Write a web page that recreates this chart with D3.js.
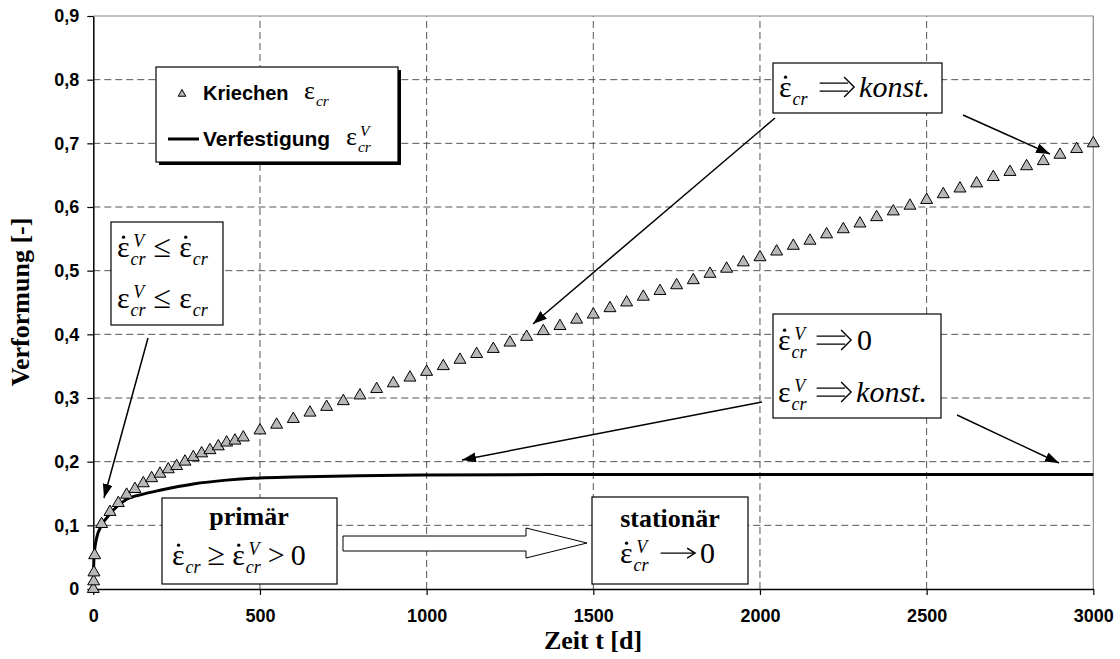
<!DOCTYPE html>
<html>
<head>
<meta charset="UTF-8">
<title>Kriechen / Verfestigung</title>
<style>
body { margin: 0; background: #fff; }
.tick text { font-family: "Liberation Sans", Arial, sans-serif; font-weight: bold; font-size: 18px; fill: #000; }
.grid line { stroke: #555; stroke-width: 1; stroke-dasharray: 7,4; }
.serif { font-family: "Liberation Serif", "Times New Roman", serif; fill: #000; }
</style>
</head>
<body>
<svg id="chart" width="1120" height="659"></svg>
<script src="https://d3js.org/d3.v7.min.js"></script>
<script>
// Kriechen (triangles)
var kriechenT = [0, 1, 2, 4, 25, 50, 75, 100, 125, 150, 175, 200, 225, 250, 275, 300, 325, 350, 375, 400, 425, 450,
  500, 550, 600, 650, 700, 750, 800, 850, 900, 950, 1000, 1050, 1100, 1150, 1200, 1250, 1300, 1350, 1400, 1450,
  1500, 1550, 1600, 1650, 1700, 1750, 1800, 1850, 1900, 1950, 2000, 2050, 2100, 2150, 2200, 2250, 2300, 2350,
  2400, 2450, 2500, 2550, 2600, 2650, 2700, 2750, 2800, 2850, 2900, 2950, 3000];
var kriechenV = [0, 0.012, 0.026, 0.053, 0.102, 0.121, 0.135, 0.148, 0.157, 0.166, 0.174, 0.181, 0.188, 0.193, 0.200, 0.207, 0.213, 0.218, 0.224, 0.230, 0.233, 0.238,
  0.249, 0.258, 0.267, 0.277, 0.286, 0.295, 0.304, 0.314, 0.323, 0.332, 0.341, 0.350, 0.360, 0.369, 0.377, 0.387, 0.396, 0.405, 0.413, 0.423,
  0.431, 0.441, 0.450, 0.459, 0.468, 0.477, 0.485, 0.495, 0.503, 0.513, 0.521, 0.530, 0.539, 0.547, 0.557, 0.565, 0.574, 0.584,
  0.593, 0.602, 0.611, 0.620, 0.629, 0.637, 0.647, 0.655, 0.664, 0.672, 0.682, 0.691, 0.700];

// Verfestigung (solid line)
var verfT = [0, 2, 10, 25, 50, 100, 150, 200, 300, 400, 500, 600, 800, 1000, 1500, 2000, 3000];
var verfV = [0, 0.05, 0.08, 0.100, 0.118, 0.141, 0.149, 0.155, 0.165, 0.171, 0.1745, 0.176, 0.178, 0.179, 0.180, 0.180, 0.180];

var xTicks = [0, 500, 1000, 1500, 2000, 2500, 3000];
var yTicks = [0, 0.1, 0.2, 0.3, 0.4, 0.5, 0.6, 0.7, 0.8, 0.9];

var svg = d3.select("#chart");
var x = d3.scaleLinear().domain([0, 3000]).range([93.3, 1093.3]);
var y = d3.scaleLinear().domain([0, 0.9]).range([589, 16]);

svg.append("rect").attr("width", 1120).attr("height", 659).attr("fill", "#fff");

// grid
var grid = svg.append("g").attr("class", "grid");
grid.selectAll(".gx").data(xTicks.slice(1, -1)).enter().append("line")
  .attr("x1", d => x(d)).attr("x2", d => x(d)).attr("y1", y(0)).attr("y2", y(0.9));
grid.selectAll(".gy").data(yTicks.slice(1, -1)).enter().append("line")
  .attr("y1", d => y(d)).attr("y2", d => y(d)).attr("x1", x(0)).attr("x2", x(3000));

// plot border top/right
svg.append("path").attr("d", "M" + x(0) + "," + y(0.9) + "H" + x(3000) + "V" + y(0))
  .attr("fill", "none").attr("stroke", "#888").attr("stroke-width", 1.2);

// axes
var fmt = function (d) { return d === 0 ? "0" : d3.format(".1f")(d).replace(".", ","); };
var xAxis = svg.append("g").attr("transform", "translate(0," + y(0) + ")")
  .call(d3.axisBottom(x).tickValues(xTicks).tickFormat(d3.format("d")).tickSize(6).tickPadding(14).tickSizeOuter(0));
var yAxis = svg.append("g").attr("transform", "translate(" + x(0) + ",0)")
  .call(d3.axisLeft(y).tickValues(yTicks).tickFormat(fmt).tickSize(6).tickPadding(8).tickSizeOuter(0));
[xAxis, yAxis].forEach(function (a) {
  a.select(".domain").attr("stroke", "#000").attr("stroke-width", 1.5);
  a.selectAll(".tick line").attr("stroke", "#000").attr("stroke-width", 1.2);
  a.attr("font-family", null).attr("font-size", null);
});

// axis titles
svg.append("text").attr("class", "serif").attr("x", 593).attr("y", 649)
  .attr("text-anchor", "middle").attr("font-weight", "bold").attr("font-size", 26).text("Zeit t [d]");
svg.append("text").attr("class", "serif").attr("transform", "translate(29,302) rotate(-90)")
  .attr("text-anchor", "middle").attr("font-weight", "bold").attr("font-size", 26).text("Verformung [-]");

// Verfestigung line
var line = d3.line().x(i => x(verfT[i])).y(i => y(verfV[i])).curve(d3.curveMonotoneX);
svg.append("path").attr("d", line(d3.range(verfT.length)))
  .attr("fill", "none").attr("stroke", "#000").attr("stroke-width", 3);

// Kriechen triangles
var tri = d3.symbol().type(d3.symbolTriangle).size(62);
svg.append("g").selectAll("path").data(d3.range(kriechenT.length)).enter().append("path")
  .attr("d", tri)
  .attr("transform", i => "translate(" + x(kriechenT[i]) + "," + y(kriechenV[i]) + ")")
  .attr("fill", "#b8b8b8").attr("stroke", "#000").attr("stroke-width", 1);

// math helper: lays out epsilon terms and operators left to right
function mathLine(g, x0, base, fs, items) {
  var cx = x0;
  items.forEach(function (it) {
    if (it.gap !== undefined) { cx += it.gap; return; }
    if (it.shape) {
      // thin arrow operators drawn as paths (⇒ and →)
      var w = fs * 1.15, c = base - fs * 0.33, d;
      if (it.shape === "impl") {
        d = "M" + cx + "," + (c - 4) + "H" + (cx + w - 6) + "M" + cx + "," + (c + 4) + "H" + (cx + w - 6) +
          "M" + (cx + w - 10) + "," + (c - 10) + "L" + (cx + w) + "," + c + "L" + (cx + w - 10) + "," + (c + 10);
      } else {
        d = "M" + cx + "," + c + "H" + (cx + w - 2) +
          "M" + (cx + w - 8) + "," + (c - 5) + "L" + (cx + w) + "," + c + "L" + (cx + w - 8) + "," + (c + 5);
      }
      g.append("path").attr("d", d).attr("fill", "none").attr("stroke", "#000").attr("stroke-width", 1.4);
      cx += w;
      return;
    }
    if (it.eps) {
      var t = g.append("text").attr("class", "serif").attr("x", cx).attr("y", base).attr("font-size", fs).text("ε");
      var ew = t.node().getComputedTextLength();
      if (it.dot) g.append("circle").attr("cx", cx + ew * 0.52).attr("cy", base - fs * 0.66).attr("r", fs * 0.055).attr("fill", "#000");
      var sfs = fs * 0.6, sw = 0;
      if (it.sub) {
        var s = g.append("text").attr("class", "serif").attr("x", cx + ew + 1).attr("y", base + fs * 0.27)
          .attr("font-size", sfs).attr("font-style", "italic").text(it.sub);
        sw = s.node().getComputedTextLength();
      }
      if (it.sup) {
        var p = g.append("text").attr("class", "serif").attr("x", cx + ew + fs * 0.12).attr("y", base - fs * 0.34)
          .attr("font-size", sfs).attr("font-style", "italic").text(it.sup);
        sw = Math.max(sw, p.node().getComputedTextLength() + fs * 0.11);
      }
      cx += ew + 1 + sw;
    } else {
      var o = g.append("text").attr("class", "serif").attr("x", cx).attr("y", base)
        .attr("font-size", it.fs || fs).attr("font-style", it.it ? "italic" : null).text(it.t);
      cx += o.node().getComputedTextLength();
    }
  });
}

var IMPL = { shape: "impl" }, TO = { shape: "to" };

function box(g, x0, y0, w, h) {
  g.append("rect").attr("x", x0).attr("y", y0).attr("width", w).attr("height", h)
    .attr("fill", "#fff").attr("stroke", "#000").attr("stroke-width", 1.2);
}

var ann = svg.append("g");

// legend
ann.append("rect").attr("x", 159).attr("y", 70).attr("width", 242).attr("height", 95).attr("fill", "#000");
box(ann, 156, 67, 242, 95);
ann.append("path").attr("d", d3.symbol().type(d3.symbolTriangle).size(26)).attr("transform", "translate(182,94)")
  .attr("fill", "#b8b8b8").attr("stroke", "#000").attr("stroke-width", 1);
ann.append("line").attr("x1", 168).attr("x2", 199).attr("y1", 139).attr("y2", 139).attr("stroke", "#000").attr("stroke-width", 3);
ann.append("text").attr("x", 203).attr("y", 100).attr("font-family", "Liberation Sans, Arial, sans-serif")
  .attr("font-weight", "bold").attr("font-size", 20).text("Kriechen");
ann.append("text").attr("x", 203).attr("y", 146).attr("font-family", "Liberation Sans, Arial, sans-serif")
  .attr("font-weight", "bold").attr("font-size", 21).text("Verfestigung");
mathLine(ann, 304, 99, 26, [{ eps: true, sub: "cr" }]);
mathLine(ann, 346, 145, 26, [{ eps: true, sub: "cr", sup: "V" }]);

// box: rate constant
box(ann, 773, 63, 169, 50);
mathLine(ann, 779, 97, 30, [{ eps: true, dot: true, sub: "cr" }, { gap: 12 }, IMPL, { gap: 5 }, { t: "konst.", it: true }]);

// box: left inequalities
box(ann, 111, 222, 112, 103);
mathLine(ann, 117, 257, 30, [{ eps: true, dot: true, sub: "cr", sup: "V" }, { gap: 8 }, { t: "≤", fs: 32 }, { gap: 8 }, { eps: true, dot: true, sub: "cr" }]);
mathLine(ann, 117, 308, 30, [{ eps: true, sub: "cr", sup: "V" }, { gap: 8 }, { t: "≤", fs: 32 }, { gap: 8 }, { eps: true, sub: "cr" }]);

// box: hardening
box(ann, 773, 314, 168, 104);
mathLine(ann, 778, 350, 30, [{ eps: true, dot: true, sub: "cr", sup: "V" }, { gap: 10 }, IMPL, { gap: 6 }, { t: "0" }]);
mathLine(ann, 778, 402, 30, [{ eps: true, sub: "cr", sup: "V" }, { gap: 10 }, IMPL, { gap: 5 }, { t: "konst.", it: true }]);

// box: primär
box(ann, 162, 498, 175, 86);
ann.append("text").attr("class", "serif").attr("x", 249).attr("y", 525).attr("text-anchor", "middle")
  .attr("font-weight", "bold").attr("font-size", 26).text("primär");
mathLine(ann, 172, 565, 30, [{ eps: true, dot: true, sub: "cr" }, { gap: 7 }, { t: "≥", fs: 32 }, { gap: 7 }, { eps: true, dot: true, sub: "cr", sup: "V" }, { gap: 7 }, { t: ">" }, { gap: 6 }, { t: "0" }]);

// box: stationär
box(ann, 592, 497, 156, 87);
ann.append("text").attr("class", "serif").attr("x", 670).attr("y", 527).attr("text-anchor", "middle")
  .attr("font-weight", "bold").attr("font-size", 26).text("stationär");
mathLine(ann, 620, 563, 30, [{ eps: true, dot: true, sub: "cr", sup: "V" }, { gap: 12 }, TO, { gap: 5 }, { t: "0" }]);

// block arrow between phases
ann.append("polygon")
  .attr("points", "343,536 526,536 526,528 587,543 526,558 526,551 343,551")
  .attr("fill", "#fff").attr("stroke", "#000").attr("stroke-width", 1);

// pointer arrows
svg.append("defs").append("marker").attr("id", "head").attr("markerUnits", "userSpaceOnUse")
  .attr("markerWidth", 16).attr("markerHeight", 12).attr("refX", 14).attr("refY", 5).attr("orient", "auto")
  .append("path").attr("d", "M0,0L14,5L0,10Z").attr("fill", "#000");
var arrows = [[775, 118, 533, 324], [963, 115, 1050, 154], [148, 338, 104, 498], [762, 402, 462, 460], [957, 415, 1059, 463]];
ann.selectAll(".arr").data(arrows).enter().append("line")
  .attr("x1", d => d[0]).attr("y1", d => d[1]).attr("x2", d => d[2]).attr("y2", d => d[3])
  .attr("stroke", "#000").attr("stroke-width", 1.5).attr("marker-end", "url(#head)");
</script>
</body>
</html>
